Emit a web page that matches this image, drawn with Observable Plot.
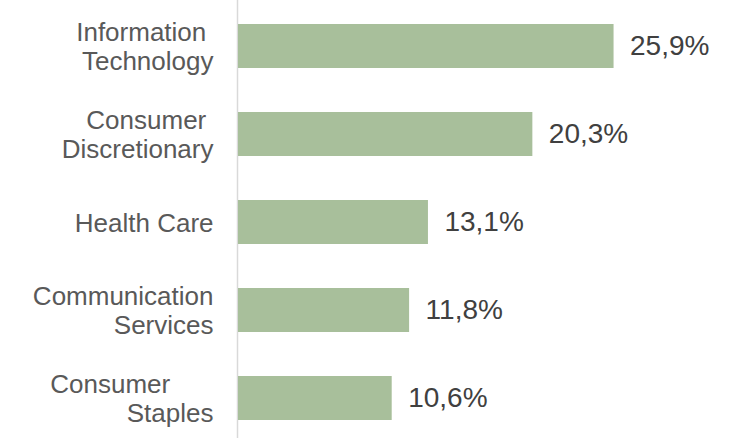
<!DOCTYPE html>
<html>
<head>
<meta charset="utf-8">
<script src="https://cdn.jsdelivr.net/npm/d3@7"></script>
<script src="https://cdn.jsdelivr.net/npm/@observablehq/plot@0.6"></script>
<style>
  html, body { margin: 0; padding: 0; background: #fff; }
  svg { display: block; }
</style>
</head>
<body>
<div id="chart"></div>
<script>
const categories = ["Information\u00a0\nTechnology", "Consumer\u00a0\nDiscretionary", "Health Care", "Communication\nServices", "Consumer\u00a0\u00a0\u00a0\u00a0\u00a0\u00a0\nStaples"];
const values = [25.9, 20.3, 13.1, 11.8, 10.6];
const valueLabels = ["25,9%", "20,3%", "13,1%", "11,8%", "10,6%"];

const data = categories.map((c, i) => ({cat: c, value: values[i], label: valueLabels[i]}));
const font = "'Liberation Sans', Arial, sans-serif";

const chart = Plot.plot({
  width: 744,
  height: 438,
  marginLeft: 237,
  marginRight: 0,
  marginTop: 0,
  marginBottom: 0,
  style: {fontFamily: font, background: "#fff"},
  x: {domain: [0, 30], range: [238, 673], axis: null},
  y: {domain: categories, range: [23, 421], paddingInner: 0.5, paddingOuter: 0, axis: null},
  marks: [
    Plot.ruleX([0], {stroke: "#d9d9d9", strokeWidth: 1.5, dx: -1}),
    Plot.barX(data, {y: "cat", x: "value", fill: "#a8bf9b"}),
    Plot.text(data, {y: "cat", x: () => 0, text: "cat", textAnchor: "end", dx: -25, fontSize: 26, lineHeight: 1.1, fill: "#595959", fontFamily: font}),
    Plot.text(data, {y: "cat", x: "value", text: "label", textAnchor: "start", dx: 16, fontSize: 28, fill: "#404040", fontFamily: font})
  ]
});
document.getElementById("chart").appendChild(chart);
</script>
</body>
</html>
